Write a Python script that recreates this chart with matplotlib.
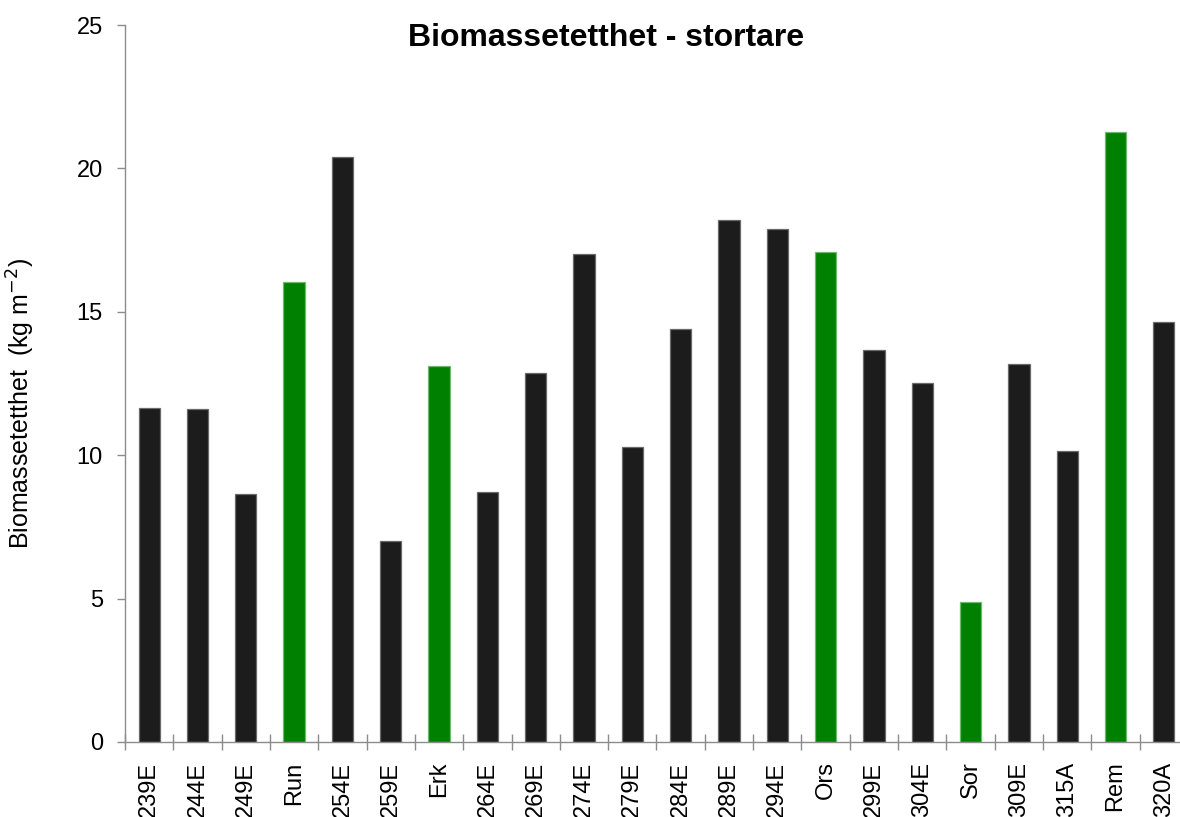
import matplotlib
matplotlib.use("Agg")
import matplotlib.pyplot as plt
import numpy as np

plt.rcParams['font.family'] = ['Liberation Sans', 'DejaVu Sans']

categories = ["239E", "244E", "249E", "Run", "254E", "259E", "Erk", "264E", "269E",
              "274E", "279E", "284E", "289E", "294E", "Ors", "299E", "304E", "Sor",
              "309E", "315A", "Rem", "320A"]
values = [11.65, 11.6, 8.65, 16.04, 20.4, 7.0, 13.12, 8.72, 12.85, 17.03, 10.3, 14.4,
          18.2, 17.9, 17.08, 13.68, 12.52, 4.88, 13.18, 10.15, 21.27, 14.64]
green_sites = ["Run", "Erk", "Ors", "Sor", "Rem"]

colors = ['#008000' if c in green_sites else '#1c1c1c' for c in categories]
edges = ['#6cba6c' if c in green_sites else '#6a6a6a' for c in categories]

W, H = 1180, 817
fig = plt.figure(figsize=(W / 100, H / 100), dpi=100)
x0, x1 = 125, 1188
y0, y1 = 25, 742
ax = fig.add_axes([x0 / W, 1 - y1 / H, (x1 - x0) / W, (y1 - y0) / H])

x = np.arange(len(categories))
ax.bar(x, values, width=0.44, color=colors, edgecolor=edges, linewidth=0.9, zorder=2)

ax.set_xlim(-0.5, len(categories) - 0.5)
ax.set_ylim(0, 25)
ax.set_yticks([0, 5, 10, 15, 20, 25])
ax.set_xticks(x)
ax.set_xticklabels(categories, rotation=90, fontsize=17)
ax.set_xticks(np.arange(-0.5, len(categories), 1.0), minor=True)
ax.tick_params(axis='x', which='major', length=0, pad=14)
ax.tick_params(axis='x', which='minor', direction='inout', length=11.5, width=1, color='#8c8c8c')
ax.tick_params(axis='y', which='major', direction='out', length=6, width=1, color='#8c8c8c',
               labelsize=17, pad=10)

for s in ['top', 'right']:
    ax.spines[s].set_visible(False)
for s in ['left', 'bottom']:
    ax.spines[s].set_color('#8c8c8c')
    ax.spines[s].set_linewidth(1)

ax.set_ylabel("Biomassetetthet  (kg m$^{-2}$)", fontsize=18)
ax.yaxis.set_label_coords((37 - x0) / (x1 - x0), (y1 - 403) / (y1 - y0))

fig.text(606 / W, 1 - 38 / H, "Biomassetetthet - stortare", ha='center', va='center',
         fontsize=23, fontweight='bold')

fig.savefig("out.png", dpi=100)
